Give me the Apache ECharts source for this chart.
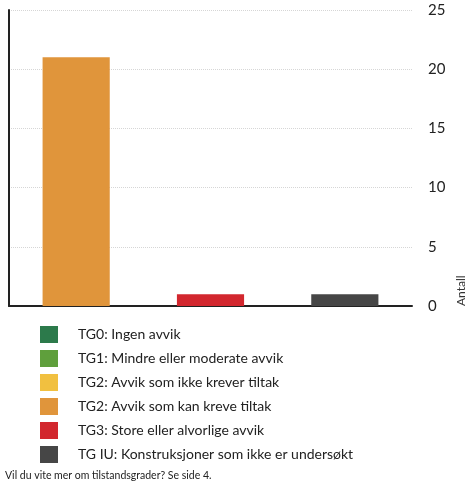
<!DOCTYPE html>
<html>
<head>
<meta charset="utf-8">
<script src="https://cdn.jsdelivr.net/npm/echarts@6/dist/echarts.min.js"></script>
<style>
  html, body { margin: 0; padding: 0; background: #fff; }
  #chart { width: 469px; height: 484px; }
</style>
</head>
<body>
<div id="chart"></div>
<script>
// categories on the x axis (only the grades that have bars)
const categories = ["TG2 kan", "TG3", "TG IU"];
// legend entries, one per grade
const seriesNames = [
  "TG0: Ingen avvik",
  "TG1: Mindre eller moderate avvik",
  "TG2: Avvik som ikke krever tiltak",
  "TG2: Avvik som kan kreve tiltak",
  "TG3: Store eller alvorlige avvik",
  "TG IU: Konstruksjoner som ikke er undersøkt"
];
const seriesColors = ["#2c7a4b", "#5f9f3c", "#f1c040", "#e0953b", "#d2272e", "#464646"];
// values per series, aligned with categories ('-' = no bar)
const tg0 = ["-", "-", "-"];
const tg1 = ["-", "-", "-"];
const tg2a = ["-", "-", "-"];
const tg2b = [21, "-", "-"];
const tg3 = ["-", 1, "-"];
const tgIU = ["-", "-", 1];
const yTicks = [0, 5, 10, 15, 20, 25];

const allData = [tg0, tg1, tg2a, tg2b, tg3, tgIU];
const font = "Lato, sans-serif";

const chart = echarts.init(document.getElementById("chart"));

chart.setOption({
  animation: false,
  textStyle: { fontFamily: font },
  grid: { left: 9, right: 57, top: 10, bottom: 178 },
  legend: {
    orient: "vertical",
    left: 35,
    top: 321,
    itemWidth: 18,
    itemHeight: 17,
    itemGap: 7,
    icon: "rect",
    selectedMode: false,
    data: seriesNames,
    textStyle: {
      fontSize: 14,
      color: "#222",
      padding: [0, 0, 0, 15]
    }
  },
  graphic: [
    {
      type: "text",
      left: 5,
      top: 470,
      style: {
        text: "Vil du vite mer om tilstandsgrader? Se side 4.",
        fontSize: 10.5,
        fill: "#222",
        fontFamily: font
      }
    },
    {
      // y axis title, rotated, at the far right bottom
      type: "text",
      x: 455,
      y: 306,
      rotation: Math.PI / 2,
      style: {
        text: "Antall",
        fontSize: 12,
        fill: "#333",
        fontFamily: font
      }
    }
  ],
  xAxis: {
    type: "category",
    data: categories,
    axisLine: { lineStyle: { color: "#222", width: 2 } },
    axisTick: { show: false },
    axisLabel: { show: false }
  },
  yAxis: [
    {
      type: "value",
      position: "right",
      min: yTicks[0],
      max: yTicks[yTicks.length - 1],
      interval: 5,
      axisLine: { show: false },
      axisTick: { show: false },
      axisLabel: { fontSize: 15, color: "#222", margin: 16 },
      splitLine: { lineStyle: { color: "#d6d6d6", type: "dotted" } }
    },
    {
      type: "value",
      position: "left",
      min: 0,
      max: 25,
      axisLine: { show: true, lineStyle: { color: "#222", width: 2 } },
      axisTick: { show: false },
      axisLabel: { show: false },
      splitLine: { show: false }
    }
  ],
  series: seriesNames.map((name, i) => ({
    name: name,
    type: "bar",
    stack: "all",
    barWidth: "50%",
    itemStyle: { color: seriesColors[i] },
    data: allData[i]
  }))
});
</script>
</body>
</html>
